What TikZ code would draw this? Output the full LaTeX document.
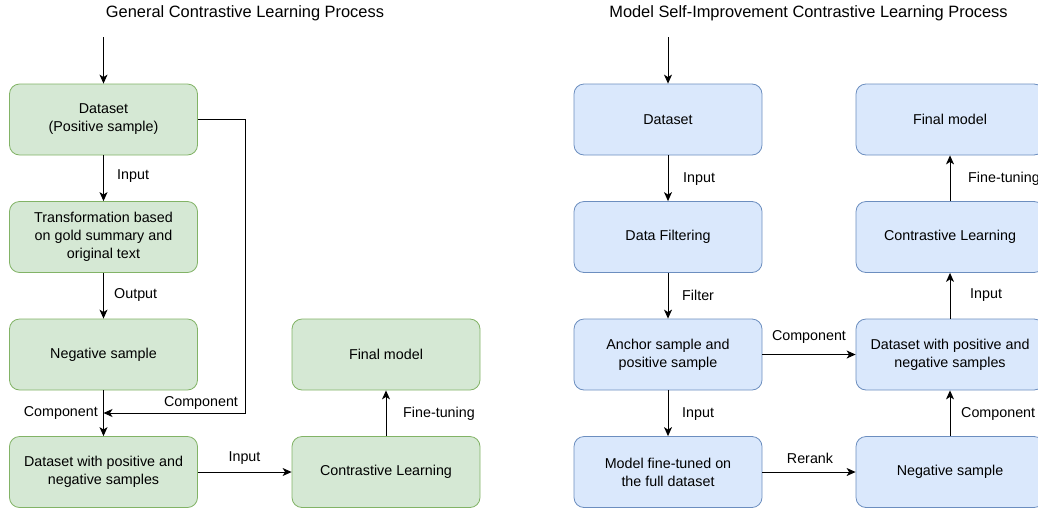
\documentclass[tikz,border=0pt]{standalone}
\usepackage{fontspec}
\setmainfont{Liberation Sans}
\usetikzlibrary{arrows.meta}
\definecolor{gfill}{HTML}{D5E8D4}
\definecolor{gline}{HTML}{82B366}
\definecolor{bfill}{HTML}{DAE8FC}
\definecolor{bline}{HTML}{6C8EBF}
\tikzset{
  box/.style={rounded corners=10pt, minimum width=188pt, minimum height=71pt, inner sep=0pt, line width=0.8pt, align=center, font=\fontsize{14.3}{18}\selectfont},
  gbox/.style={box, draw=gline, fill=gfill},
  bbox/.style={box, draw=bline, fill=bfill},
  arr/.style={draw=black, line width=1pt, -{Stealth[length=9pt,width=8pt,inset=2.5pt]}},
  lbl/.style={inner sep=0pt, font=\fontsize{14.3}{17}\selectfont},
  ttl/.style={inner sep=0pt, font=\fontsize{16.4}{20}\selectfont}
}
\begin{document}
\begin{tikzpicture}[x=1pt,y=-1pt]
\useasboundingbox (0,0) rectangle (1038,509);
% titles
\node[ttl] (t1title) at (245,13) {General Contrastive Learning Process};
\node[ttl] (t2title) at (808.5,13) {Model Self-Improvement Contrastive Learning Process};
% left diagram
\node[gbox] (d1) at (103.5,119.5) {Dataset\\(Positive sample)};
\node[gbox] (tr1) at (103.5,237) {Transformation based\\on gold summary and\\original text};
\node[gbox] (n1) at (103.5,354.5) {Negative sample};
\node[gbox] (ds1) at (103.5,472) {Dataset with positive and\\negative samples};
\node[gbox] (f1) at (386,354.5) {Final model};
\node[gbox] (c1) at (386,472) {Contrastive Learning};
\coordinate (s1) at (103.5,37);
\coordinate (j1) at (103.5,413);
\coordinate (r1) at (245,413);
\draw[arr] (s1) -- (d1.north);
\draw[arr] (d1) -- (tr1);
\draw[arr] (tr1) -- (n1);
\draw[arr] (n1) -- (ds1);
\draw[arr] (d1.east) -| (r1) -- (j1);
\draw[arr] (ds1) -- (c1);
\draw[arr] (c1) -- (f1);
\node[lbl, anchor=west] (l1) at (117,176) {Input};
\node[lbl, anchor=west] (l2) at (114,295) {Output};
\node[lbl, anchor=east] (l3) at (98,413) {Component};
\node[lbl] (l4) at (201,403) {Component};
\node[lbl] (l5) at (244.5,458) {Input};
\node[lbl, anchor=west] (l6) at (403,414) {Fine-tuning};
% right diagram
\node[bbox] (d2) at (668,119.5) {Dataset};
\node[bbox] (df2) at (668,237) {Data Filtering};
\node[bbox] (a2) at (668,354.5) {Anchor sample and\\positive sample};
\node[bbox] (m2) at (668,472) {Model fine-tuned on\\the full dataset};
\node[bbox] (f2) at (950,119.5) {Final model};
\node[bbox] (c2) at (950,237) {Contrastive Learning};
\node[bbox] (ds2) at (950,354.5) {Dataset with positive and\\negative samples};
\node[bbox] (n2) at (950,472) {Negative sample};
\coordinate (s2) at (668,37);
\draw[arr] (s2) -- (d2.north);
\draw[arr] (d2) -- (df2);
\draw[arr] (df2) -- (a2);
\draw[arr] (a2) -- (m2);
\draw[arr] (a2) -- (ds2);
\draw[arr] (m2) -- (n2);
\draw[arr] (n2) -- (ds2);
\draw[arr] (ds2) -- (c2);
\draw[arr] (c2) -- (f2);
\node[lbl, anchor=west] (r1l) at (683,179) {Input};
\node[lbl, anchor=west] (r2l) at (682,295) {Filter};
\node[lbl, anchor=west] (r3l) at (682,414) {Input};
\node[lbl] (r4l) at (809,337) {Component};
\node[lbl] (r5l) at (810,458) {Rerank};
\node[lbl, anchor=west] (r6l) at (968,179) {Fine-tuning};
\node[lbl, anchor=west] (r7l) at (970,295) {Input};
\node[lbl, anchor=west] (r8l) at (961,414) {Component};
\end{tikzpicture}
\end{document}
